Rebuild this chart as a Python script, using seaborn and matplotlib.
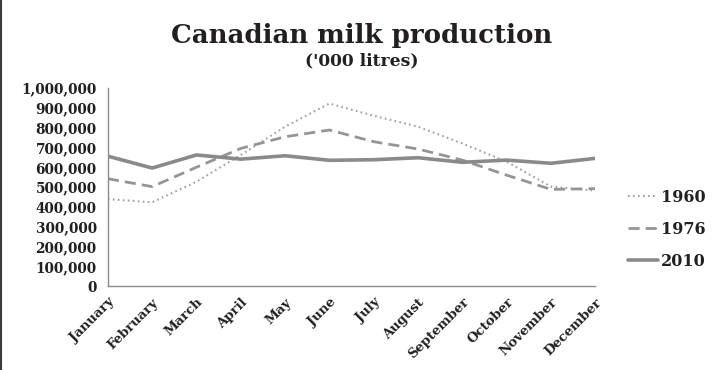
#!/usr/bin/env python3
"""Canadian milk production by month, 1960 / 1976 / 2010."""

import matplotlib
matplotlib.use("Agg")
import matplotlib.pyplot as plt
from matplotlib.lines import Line2D
from matplotlib.ticker import FuncFormatter
import pandas as pd
import seaborn as sns

months = ["January", "February", "March", "April", "May", "June", "July",
          "August", "September", "October", "November", "December"]
years = ["1960", "1976", "2010"]
prod_1960 = [439000, 423000, 527000, 662000, 805000, 922000, 860000,
             805000, 720000, 628000, 502000, 482000]
prod_1976 = [542000, 502000, 600000, 695000, 754000, 788000, 729000,
             692000, 636000, 560000, 488000, 492000]
prod_2010 = [656000, 596000, 662000, 641000, 658000, 635000, 638000,
             648000, 625000, 636000, 620000, 645000]
yticks = list(range(0, 1000001, 100000))


def main():
    df = pd.DataFrame({
        "month": months * 3,
        "pos": list(range(12)) * 3,
        "year": [y for y in years for _ in months],
        "litres": prod_1960 + prod_1976 + prod_2010,
    })

    sns.set_style("white")
    plt.rcParams["font.family"] = ["DejaVu Serif"]
    text_col = "#231f20"
    axis_col = "#8c8c8c"

    fig = plt.figure(figsize=(7.19, 3.70), dpi=100)
    ax = fig.add_axes([0.150, 0.227, 0.678, 0.535])

    palette = {"1960": "#a0a0a0", "1976": "#959595", "2010": "#8a8a8a"}
    dashes = {"1960": (0.8, 1.6), "1976": (4, 2.2), "2010": ""}
    widths = {"1960": 1.5, "1976": 2.0, "2010": 2.6}

    for yr in years:
        sub = df[df["year"] == yr]
        sns.lineplot(data=sub, x="pos", y="litres", ax=ax, color=palette[yr],
                     linewidth=widths[yr], label=yr)
        if dashes[yr]:
            ax.lines[-1].set_dashes(dashes[yr])

    ax.set_xlim(0, 11)
    ax.set_ylim(0, 1000000)
    ax.set_xticks(range(12))
    ax.set_xticklabels(months, rotation=45, ha="right", rotation_mode="anchor",
                       fontsize=9.5, fontweight="bold", color=text_col)
    ax.set_yticks(yticks)
    ax.yaxis.set_major_formatter(FuncFormatter(lambda v, p: f"{int(v):,}"))
    for lab in ax.get_yticklabels():
        lab.set_fontsize(9.8)
        lab.set_fontweight("bold")
        lab.set_color(text_col)
    ax.set_xlabel("")
    ax.set_ylabel("")

    for s in ["top", "right"]:
        ax.spines[s].set_visible(False)
    for s in ["left", "bottom"]:
        ax.spines[s].set_color(axis_col)
        ax.spines[s].set_linewidth(1.0)
    ax.tick_params(axis="both", direction="out", length=5, width=1.0,
                   color=axis_col, pad=3)
    ax.tick_params(axis="x", pad=2)

    handles = []
    for yr in years:
        h = Line2D([], [], color=palette[yr], linewidth=widths[yr])
        if dashes[yr]:
            h.set_dashes(dashes[yr])
        handles.append(h)
    ax.legend(handles, years, loc="center left", bbox_to_anchor=(0.862, 0.38),
              bbox_transform=fig.transFigure, frameon=False, handlelength=1.9,
              handletextpad=0.15, labelspacing=0.95,
              prop={"family": "DejaVu Serif", "weight": "bold", "size": 11.5},
              labelcolor=text_col, borderpad=0)

    fig.text(0.503, 0.905, "Canadian milk production", ha="center", va="center",
             fontsize=18.7, fontweight="bold", color=text_col)
    fig.text(0.503, 0.835, "('000 litres)", ha="center", va="center",
             fontsize=12.3, fontweight="bold", color=text_col)

    fig.add_artist(Line2D([0.0015, 0.0015], [0, 1], transform=fig.transFigure,
                          color="#3a3a3a", linewidth=1.5))

    fig.savefig("out.png", dpi=100)


if __name__ == "__main__":
    main()
